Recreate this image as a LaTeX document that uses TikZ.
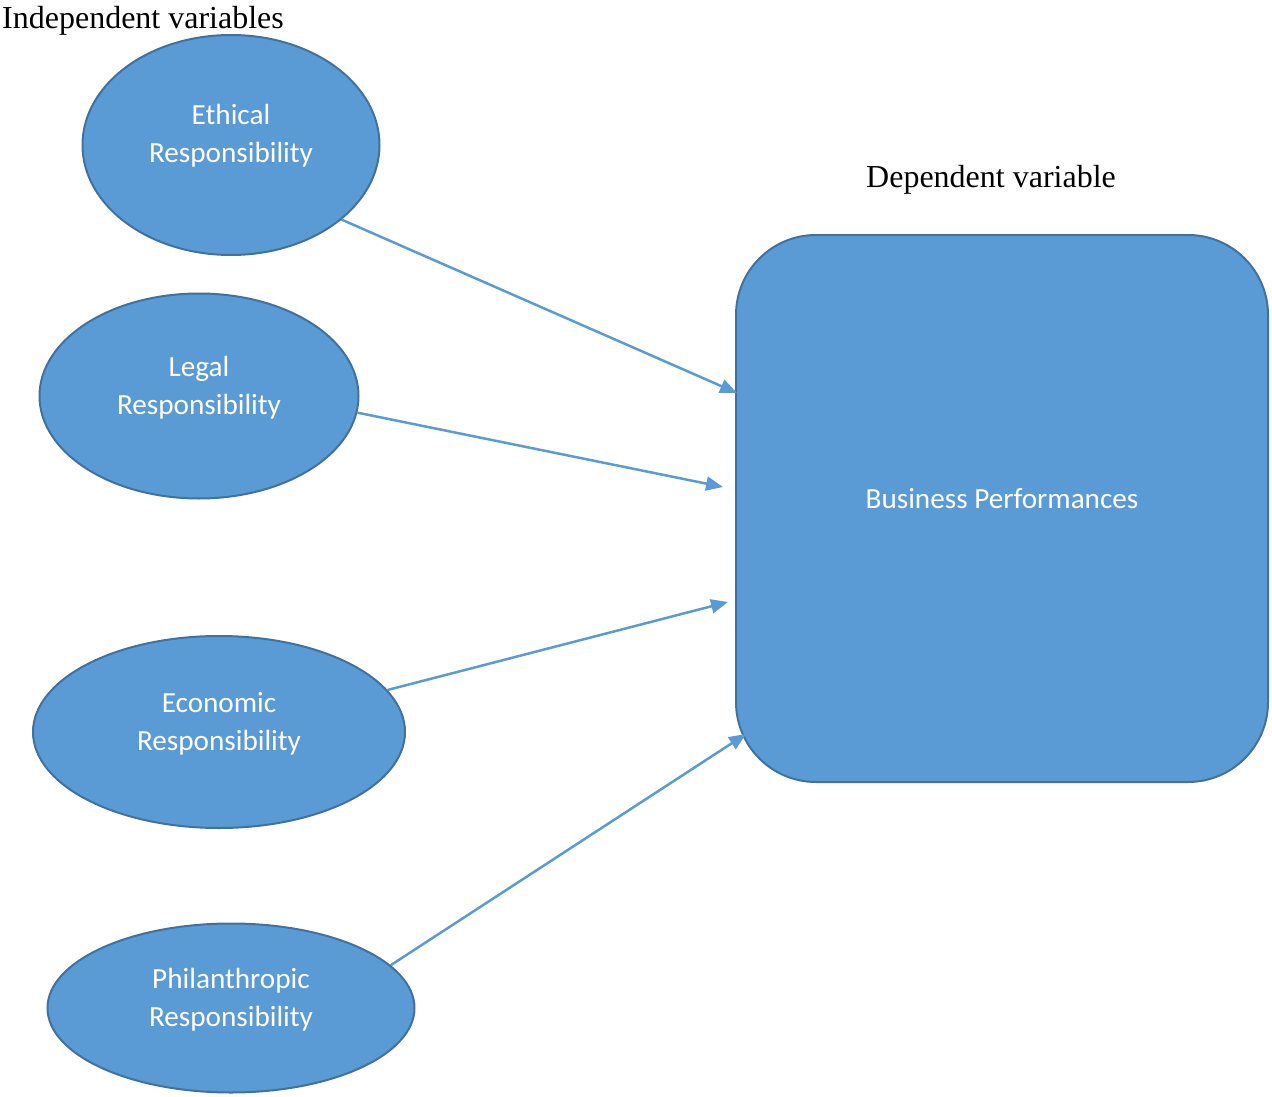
\documentclass[tikz,border=0pt]{standalone}
\usepackage{fontspec}
\setmainfont{Liberation Serif}
\newfontfamily\calibrifont{Carlito}
\usetikzlibrary{arrows.meta,shapes.geometric}
\definecolor{boxfill}{HTML}{5B9BD5}
\definecolor{boxline}{HTML}{41719C}
\tikzset{
  var/.style={ellipse, draw=boxline, line width=2pt, fill=boxfill, inner sep=0pt},
  vartext/.style={text=white, align=center, font=\calibrifont\fontsize{29.2}{38}\selectfont},
  heading/.style={font=\fontsize{32}{36}\selectfont, inner sep=0pt},
  link/.style={draw=boxfill, line width=2.5pt, -{Triangle[length=17pt,width=14pt]}}
}
\begin{document}
\begin{tikzpicture}[x=1pt,y=-1pt]
\useasboundingbox (0,0) rectangle (1272,1097);

% headings
\node[heading, anchor=west] (indep) at (2,21) {Independent variables};
\node[heading, anchor=west] (dep) at (866,180) {Dependent variable};

% independent variables
\node[var, minimum width=297pt, minimum height=220pt] (eth) at (231,145) {};
\node[vartext] (ethT) at (231,136) {Ethical\\Responsibility};

\node[var, minimum width=319pt, minimum height=205pt] (leg) at (199,396) {};
\node[vartext] (legT) at (199,388) {Legal\\Responsibility};

\node[var, minimum width=372pt, minimum height=192pt] (eco) at (219,732) {};
\node[vartext] (ecoT) at (219,724) {Economic\\Responsibility};

\node[var, minimum width=367pt, minimum height=169pt] (phi) at (231,1008) {};
\node[vartext] (phiT) at (231,1000) {Philanthropic\\Responsibility};

% dependent variable
\draw[draw=boxline, line width=2pt, fill=boxfill, rounded corners=80pt]
  (736,235) rectangle (1268,782);
\node[vartext] (bp) at (1002,499) {Business Performances};

% arrow tips
\coordinate (t1) at (737,393);
\coordinate (t2) at (723,487);
\coordinate (t3) at (728,602);
\coordinate (t4) at (746,734);

\draw[link] (eth.-34.3) -- (t1);
\draw[link] (leg.-6.1) -- (t2);
\draw[link] (eco.14.8) -- (t3);
\draw[link] (phi.15.2) -- (t4);
\end{tikzpicture}
\end{document}
